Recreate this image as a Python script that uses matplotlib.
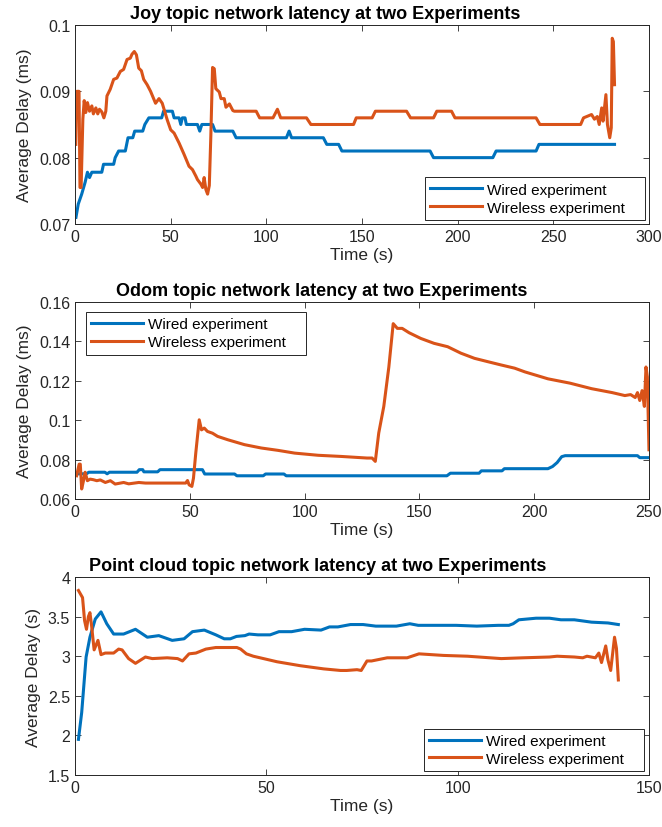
import matplotlib
matplotlib.use("Agg")
import matplotlib.pyplot as plt
from matplotlib.ticker import FuncFormatter

# ---------------- data ----------------
joy_wired_t = [0.5, 1.7, 3.5, 5.3, 6.5, 7.6, 8.8, 14.0, 14.9, 20.2, 21.0, 22.8, 26.3, 27.7, 30.2,
               31.2, 35.4, 36.5, 38.6, 45.3, 46.3, 50.9, 51.8, 54.4, 55.3, 56.1, 57.5, 58.2, 64.0,
               65.2, 66.3, 71.9, 73.2, 82.5, 84.2, 110.5, 111.9, 113.2, 129.8, 131.6, 137.8, 139.5,
               185.6, 187.4, 218.4, 220.1, 241.0, 242.5, 282.0]
joy_wired_v = [0.0710, 0.0730, 0.0745, 0.0763, 0.0778, 0.0770, 0.0778, 0.0778, 0.0790, 0.0790,
               0.0800, 0.0810, 0.0810, 0.0830, 0.0830, 0.0840, 0.0840, 0.0850, 0.0860, 0.0860,
               0.0870, 0.0870, 0.0860, 0.0860, 0.0850, 0.0860, 0.0860, 0.0850, 0.0850, 0.0840,
               0.0850, 0.0850, 0.0840, 0.0840, 0.0830, 0.0830, 0.0840, 0.0830, 0.0830, 0.0820,
               0.0820, 0.0810, 0.0810, 0.0800, 0.0800, 0.0810, 0.0810, 0.0820, 0.0820]

joy_wireless_t = [0.4, 0.9, 2.1, 2.6, 3.2, 4.1, 4.8, 5.6, 6.5, 7.6,
                  8.8, 9.6, 10.9, 11.9, 12.8, 14.0, 15.1, 16.1, 16.7, 18.4,
                  20.2, 21.9, 23.7, 25.4, 27.2, 28.9, 29.8, 31.0, 32.1, 33.3,
                  34.7, 35.9, 37.7, 39.5, 42.1, 43.9, 45.6, 48.2, 50.0, 51.8,
                  54.4, 57.0, 59.6, 61.4, 63.2, 64.0, 65.8, 66.7, 67.5, 68.4,
                  69.3, 70.2, 71.0, 71.9, 72.8, 73.6, 75.4, 76.3, 78.0, 78.9,
                  80.7, 82.5, 83.3, 94.7, 96.5, 103.5, 105.8, 107.5, 121.0, 123.3,
                  145.6, 147.0, 155.3, 157.0, 173.3, 175.4, 187.4, 189.1, 196.8, 198.6,
                  241.0, 243.0, 264.3, 265.8, 270.0, 271.5, 273.0, 274.0, 275.3, 276.0,
                  277.5, 278.3, 279.5, 280.3, 280.8, 281.4, 282.0]
joy_wireless_v = [0.0820, 0.0900, 0.0900, 0.0755, 0.0755, 0.0858, 0.0886, 0.0868, 0.0883, 0.0870,
                  0.0878, 0.0866, 0.0875, 0.0866, 0.0873, 0.0869, 0.0860, 0.0870, 0.0893, 0.0903,
                  0.0918, 0.0920, 0.0930, 0.0933, 0.0948, 0.0950, 0.0956, 0.0960, 0.0955, 0.0935,
                  0.0931, 0.0918, 0.0910, 0.0900, 0.0882, 0.0889, 0.0882, 0.0857, 0.0842, 0.0837,
                  0.0822, 0.0805, 0.0787, 0.0782, 0.0772, 0.0767, 0.0760, 0.0755, 0.0770, 0.0752,
                  0.0745, 0.0758, 0.0833, 0.0936, 0.0934, 0.0904, 0.0899, 0.0889, 0.0889, 0.0876,
                  0.0881, 0.0871, 0.0870, 0.0870, 0.0860, 0.0860, 0.0873, 0.0860, 0.0860, 0.0850,
                  0.0850, 0.0860, 0.0860, 0.0870, 0.0870, 0.0860, 0.0860, 0.0870, 0.0870, 0.0860,
                  0.0860, 0.0850, 0.0850, 0.0860, 0.0865, 0.0858, 0.0862, 0.0850, 0.0875, 0.0855,
                  0.0895, 0.0850, 0.0830, 0.0845, 0.0980, 0.0975, 0.0910]

odom_wired_t = [0.5, 5, 6, 13, 14, 15, 16, 27, 28, 29.5, 30, 36, 37, 55.5, 56.5, 69.5, 70.5, 82,
                83, 91, 92, 162, 163.5, 176, 177, 186, 187, 206, 208, 210, 212, 213.5, 245, 246, 250]
odom_wired_v = [0.0728, 0.0728, 0.0736, 0.0736, 0.0728, 0.0736, 0.0736, 0.0736, 0.0749, 0.0749,
                0.0738, 0.0738, 0.0749, 0.0749, 0.0727, 0.0727, 0.0718, 0.0718, 0.0727, 0.0727,
                0.0718, 0.0718, 0.0731, 0.0731, 0.0743, 0.0743, 0.0754, 0.0754, 0.0765, 0.0785,
                0.0815, 0.0820, 0.0820, 0.0810, 0.0810]

odom_wireless_t = [0.7, 1.8, 2.3, 2.9, 3.7, 4.4, 5.4, 6.6, 8.0, 9.5,
                   11.0, 13.2, 15.4, 17.5, 21.2, 23.4, 27.8, 30.7, 48.2, 49.0,
                   49.7, 50.9, 51.6, 52.6, 54.1, 55.1, 56.3, 57.7, 59.9, 62.1,
                   66.5, 73.8, 81.1, 88.4, 95.7, 105.9, 116.1, 127.2, 129.4, 130.8,
                   132.3, 134.5, 136.7, 138.6, 140.4, 142.5, 145.5, 150.6, 156.4, 162.3,
                   168.1, 174.0, 179.8, 185.7, 191.5, 196.0, 206.0, 215.6, 225.0, 234.0,
                   239.5, 242.0, 244.0, 245.0, 246.0, 247.0, 248.0, 248.7, 249.3, 250.0]
odom_wireless_v = [0.0718, 0.0777, 0.0777, 0.0651, 0.0693, 0.0736, 0.0693, 0.0701, 0.0698, 0.0693,
                   0.0697, 0.0684, 0.0693, 0.0676, 0.0684, 0.0677, 0.0684, 0.0681, 0.0681, 0.0694,
                   0.0672, 0.0664, 0.0706, 0.0833, 0.1002, 0.0951, 0.0960, 0.0943, 0.0934, 0.0918,
                   0.0901, 0.0876, 0.0859, 0.0847, 0.0833, 0.0822, 0.0816, 0.0808, 0.0808, 0.0791,
                   0.0935, 0.1070, 0.1270, 0.1490, 0.1466, 0.1466, 0.1444, 0.1415, 0.1390, 0.1373,
                   0.1340, 0.1314, 0.1297, 0.1280, 0.1264, 0.1245, 0.1210, 0.1188, 0.1160, 0.1140,
                   0.1125, 0.1130, 0.1115, 0.1140, 0.1100, 0.1150, 0.1070, 0.1270, 0.1220, 0.0850]

cloud_wired_t = [0.9, 1.75, 2.9, 3.9, 5.3, 6.8, 8.3, 10.1, 12.7, 15.8,
                 18.9, 21.9, 25.4, 28.5, 30.7, 33.8, 36.8, 39.0, 40.6, 42.2,
                 44.4, 45.5, 47.8, 51.0, 53.3, 56.6, 60.0, 64.3, 66.5, 68.7,
                 72.0, 75.3, 78.6, 84.0, 87.5, 89.7, 95.0, 99.6, 105.0, 110.6,
                 113.4, 114.5, 116.0, 120.5, 124.0, 127.0, 130.5, 135.0, 139.3, 142.0]
cloud_wired_v = [1.95, 2.29, 2.99, 3.24, 3.47, 3.56, 3.41, 3.28, 3.28, 3.34,
                 3.24, 3.26, 3.20, 3.22, 3.31, 3.33, 3.27, 3.22, 3.22, 3.25,
                 3.26, 3.28, 3.27, 3.27, 3.31, 3.31, 3.34, 3.33, 3.37, 3.37,
                 3.40, 3.40, 3.38, 3.38, 3.41, 3.39, 3.39, 3.39, 3.38, 3.39,
                 3.39, 3.41, 3.46, 3.48, 3.48, 3.46, 3.46, 3.43, 3.42, 3.40]

cloud_wireless_t = [0.9, 1.97, 2.5, 3.0, 3.5, 3.9, 4.3, 5.0, 6.0, 6.8,
                    7.9, 10.1, 11.4, 12.3, 14.0, 15.8, 18.4, 20.2, 24.1, 26.8,
                    28.1, 29.8, 31.6, 34.2, 36.8, 42.3, 43.3, 44.8, 46.6, 52.8,
                    58.9, 65.0, 69.4, 71.0, 73.7, 74.8, 76.3, 77.5, 81.6, 86.8,
                    89.9, 96.3, 102.6, 111.4, 117.1, 124.0, 126.0, 130.5, 132.7, 133.8,
                    136.0, 136.9, 137.6, 138.7, 139.3, 140.0, 141.0, 141.5, 142.0]
cloud_wireless_v = [3.83, 3.74, 3.45, 3.34, 3.50, 3.55, 3.40, 3.08, 3.20, 3.02,
                    3.04, 3.04, 3.09, 3.08, 2.97, 2.91, 2.99, 2.97, 2.98, 2.97,
                    2.94, 3.03, 3.04, 3.09, 3.11, 3.11, 3.09, 3.03, 3.00, 2.93,
                    2.88, 2.84, 2.82, 2.82, 2.83, 2.82, 2.94, 2.94, 2.98, 2.98,
                    3.03, 3.01, 3.00, 2.97, 2.98, 2.99, 3.00, 2.99, 2.98, 3.00,
                    2.98, 3.04, 2.92, 3.13, 2.95, 2.82, 3.24, 3.10, 2.70]

series_labels = ["Wired experiment", "Wireless experiment"]
titles = ["Joy topic network latency at two Experiments",
          "Odom topic network latency at two Experiments",
          "Point cloud topic network latency at two Experiments"]
ylabels = ["Average Delay (ms)", "Average Delay (ms)", "Average Delay (s)"]
xlabel = "Time (s)"
xlims = [(0, 300), (0, 250), (0, 150)]
ylims = [(0.07, 0.1), (0.06, 0.16), (1.5, 4)]
xticks = [[0, 50, 100, 150, 200, 250, 300], [0, 50, 100, 150, 200, 250], [0, 50, 100, 150]]
yticks = [[0.07, 0.08, 0.09, 0.1], [0.06, 0.08, 0.1, 0.12, 0.14, 0.16], [1.5, 2, 2.5, 3, 3.5, 4]]

# ---------------- style ----------------
plt.rcParams['font.family'] = ['Liberation Sans', 'DejaVu Sans']
BLUE = '#0072BD'
ORANGE = '#D95319'
AXC = '#262626'

fig = plt.figure(figsize=(6.62, 8.28), dpi=100)
positions = [(0.1133, 0.7283, 0.867, 0.2403),
             (0.1133, 0.3961, 0.867, 0.2380),
             (0.1133, 0.0628, 0.867, 0.2391)]
title_x = [0.436, 0.430, 0.423]
legend_boxes = [((0.610, 0.02, 0.383, 0.3), 'lower left'),
                ((0.019, 0.649, 0.383, 0.3), 'upper left'),
                ((0.608, 0.02, 0.383, 0.3), 'lower left')]

data = [(joy_wired_t, joy_wired_v, joy_wireless_t, joy_wireless_v),
        (odom_wired_t, odom_wired_v, odom_wireless_t, odom_wireless_v),
        (cloud_wired_t, cloud_wired_v, cloud_wireless_t, cloud_wireless_v)]

fmt = FuncFormatter(lambda v, p: '%g' % v)

for i in range(3):
    ax = fig.add_axes(positions[i])
    wt, wv, lt, lv = data[i]
    ax.plot(wt, wv, color=BLUE, lw=2.2, label=series_labels[0], solid_joinstyle='round')
    ax.plot(lt, lv, color=ORANGE, lw=2.2, label=series_labels[1], solid_joinstyle='round')
    ax.set_xlim(*xlims[i])
    ax.set_ylim(*ylims[i])
    ax.set_xticks(xticks[i])
    ax.set_yticks(yticks[i])
    ax.xaxis.set_major_formatter(fmt)
    ax.yaxis.set_major_formatter(fmt)
    ax.tick_params(direction='in', length=4, width=0.6, top=True, right=True,
                   labelsize=11.5, colors=AXC, labelcolor=AXC)
    for s in ax.spines.values():
        s.set_color(AXC)
        s.set_linewidth(0.7)
    ax.set_xlabel(xlabel, fontsize=12.5, color=AXC, labelpad=2)
    ax.set_ylabel(ylabels[i], fontsize=12.5, color=AXC, labelpad=5)
    ax.set_title(titles[i], fontsize=13, fontweight='bold', x=title_x[i], pad=5)
    bb, loc = legend_boxes[i]
    leg = ax.legend(loc=loc, bbox_to_anchor=bb, mode='expand', fontsize=11,
                    handlelength=3.4, handletextpad=0.3, borderpad=0.35,
                    labelspacing=0.25, borderaxespad=0, fancybox=False,
                    framealpha=1, edgecolor=AXC)
    leg.get_frame().set_linewidth(0.7)
    for t in leg.get_texts():
        t.set_color('black')

fig.savefig('out.png', dpi=100)
